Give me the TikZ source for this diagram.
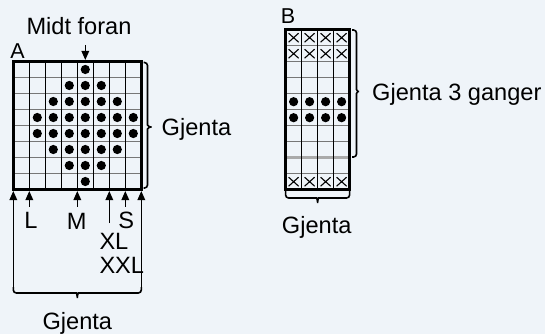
\documentclass[tikz,border=0pt]{standalone}
\usepackage{fontspec}
\setmainfont{Liberation Sans}
\usetikzlibrary{arrows.meta}
\definecolor{bg}{HTML}{EFF4F9}
\definecolor{hgrid}{HTML}{777777}
\definecolor{band}{HTML}{AAAAAA}
\tikzset{
  vline/.style={black, line width=1.1pt},
  hline/.style={hgrid, line width=1.1pt},
  bandline/.style={band, line width=3pt},
  border/.style={black, line width=3pt},
  dotfill/.style={fill=black},
  xmark/.style={black, line width=1.1pt},
  arr/.style={black, line width=1.4pt, -{Triangle[width=7.5pt,length=9pt]}},
  bracel/.style={black, line width=1.6pt, rounded corners=3pt},
  lab/.style={font=\fontsize{23.6}{28}\selectfont, inner sep=0pt, anchor=base},
  letter/.style={lab, font=\fontsize{21.5}{25}\selectfont},
}
\begin{document}
\begin{tikzpicture}[x=1pt,y=-1pt]
\fill[bg] (0,0) rectangle (545,334);
\useasboundingbox (0,0) rectangle (545,334);
% ---------- Grid A ----------
\def\ax{13.3}\def\ay{61.5}
\foreach \i in {1,...,7} \draw[hline] ({\ax},{\ay+16*\i}) -- ({\ax+128},{\ay+16*\i});
\foreach \i in {1,...,7} \draw[vline] ({\ax+16*\i},{\ay}) -- ({\ax+16*\i},{\ay+128});
\draw[border] (\ax,\ay) rectangle ({\ax+128},{\ay+128});
\foreach \r/\a/\b in {1/5/5,2/4/6,3/3/7,4/2/8,5/2/8,6/3/7,7/4/6,8/5/5}
  \foreach \c in {\a,...,\b}
    \fill[dotfill] ({\ax+16*\c-8},{\ay+16*\r-8}) circle (4.6pt);
% ---------- Grid B ----------
\def\bx{285.6}\def\by{29.7}
\foreach \i in {1,...,9} \draw[hline] ({\bx},{\by+16*\i}) -- ({\bx+64},{\by+16*\i});
\draw[bandline] ({\bx},{\by+128}) -- ({\bx+64},{\by+128});
\foreach \i in {1,...,3} \draw[vline] ({\bx+16*\i},{\by}) -- ({\bx+16*\i},{\by+160});
\draw[border] (\bx,\by) rectangle ({\bx+64},{\by+160});
\foreach \r in {1,2,10}
  \foreach \c in {1,...,4}
    \draw[xmark] ({\bx+16*\c-8-5},{\by+16*\r-8-4.5}) -- ({\bx+16*\c-8+5},{\by+16*\r-8+4.5})
                 ({\bx+16*\c-8-5},{\by+16*\r-8+4.5}) -- ({\bx+16*\c-8+5},{\by+16*\r-8-4.5});
\foreach \r in {5,6}
  \foreach \c in {1,...,4}
    \fill[dotfill] ({\bx+16*\c-8},{\by+16*\r-8}) circle (4.6pt);
% ---------- Labels ----------
\node[lab] (midt) at (79,35) {Midt foran};
\node[letter] (A) at (17.5,58.3) {A};
\node[lab, anchor=base west] (gjA) at (161.5,135.5) {Gjenta};
\node[lab] (L) at (31,228.5) {L};
\node[lab] (M) at (76.8,229) {M};
\node[lab] (S) at (126.3,228.5) {S};
\node[lab, anchor=base west] (XL) at (99.3,249) {XL};
\node[lab, anchor=base west] (XXL) at (99.3,273) {XXL};
\node[lab] (gjAb) at (77.3,329.5) {Gjenta};
\node[letter] (B) at (288,24) {B};
\node[lab, anchor=base west] (gjB3) at (372,100) {Gjenta 3 ganger};
\node[lab] (gjBb) at (316.7,233.3) {Gjenta};
% ---------- Arrows ----------
\coordinate (mfT) at (85.3,45);  \coordinate (mfH) at (85.3,60);
\draw[arr] (mfT) -- (mfH);
\coordinate (a1T) at (13.3,287);  \coordinate (a1H) at (13.3,191);
\coordinate (a2T) at (29.3,206.5); \coordinate (a2H) at (29.3,191);
\coordinate (a3T) at (77.3,206.5); \coordinate (a3H) at (77.3,191);
\coordinate (a4T) at (109.3,223); \coordinate (a4H) at (109.3,191);
\coordinate (a5T) at (125.3,206.5); \coordinate (a5H) at (125.3,191);
\coordinate (a6T) at (141.3,287); \coordinate (a6H) at (141.3,191);
\foreach \k in {1,...,6} \draw[arr] (a\k T) -- (a\k H);
% ---------- Braces ----------
\draw[bracel] (a1T) -- (13.3,293) -- (73.3,293)
  .. controls (76.3,293) and (77.3,295) .. (77.3,300)
  .. controls (77.3,295) and (78.3,293) .. (81.3,293) -- (141.3,293) -- (a6T);
\draw[bracel] (143.5,62.5) -- (147.5,62.5) -- (147.5,122)
  .. controls (147.5,125.5) and (149.5,127) .. (153.5,127)
  .. controls (149.5,127) and (147.5,128.5) .. (147.5,132) -- (147.5,188) -- (143.5,188);
\draw[bracel] (352,30) -- (356.5,30) -- (356.5,86.5)
  .. controls (356.5,90) and (358,91.5) .. (361,91.5)
  .. controls (358,91.5) and (356.5,93) .. (356.5,96.5) -- (356.5,157) -- (352,157);
\draw[bracel] (285.6,191) -- (285.6,198) -- (313.6,198)
  .. controls (316.6,198) and (317.6,200) .. (317.6,205)
  .. controls (317.6,200) and (318.6,198) .. (321.6,198) -- (349.6,198) -- (349.6,191);
\end{tikzpicture}
\end{document}
